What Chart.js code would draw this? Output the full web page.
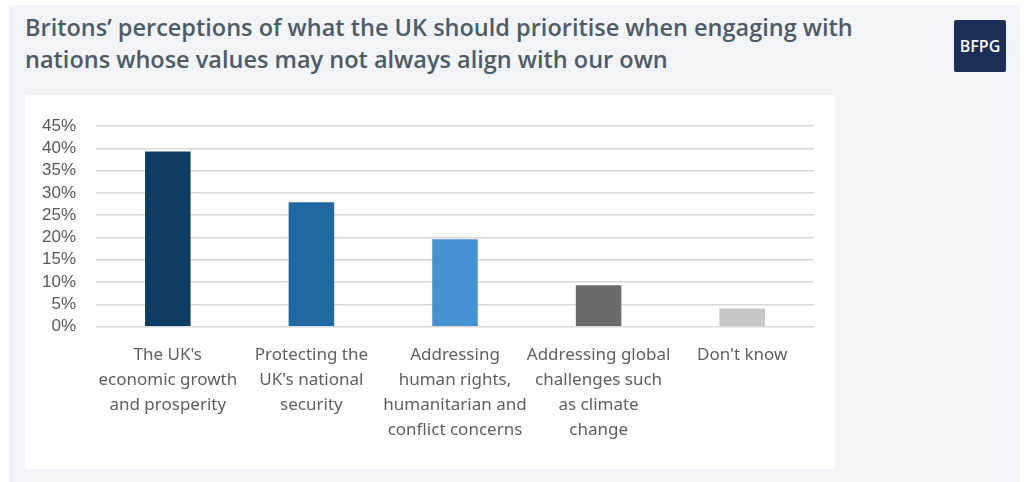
<!DOCTYPE html>
<html>
<head>
<meta charset="utf-8">
<script src="https://cdn.jsdelivr.net/npm/chart.js@4"></script>
<style>
  body { margin: 0; background: #ffffff; width: 1026px; height: 482px; overflow: hidden; }
  #panel { position: absolute; left: 9px; top: 5px; width: 1011px; height: 477px; background: #f1f5f9; }
  #title { position: absolute; left: 16px; top: 6px; width: 900px; font-family: "Open Sans", sans-serif; font-weight: 600;
           font-size: 23.5px; line-height: 32px; color: #4e5b67; }
  #logo { position: absolute; left: 945px; top: 15px; width: 52px; height: 52px; background: #1c2d58; border-radius: 2px;
          color: #fff; font-family: "Open Sans", sans-serif; font-weight: 600; font-size: 16px; line-height: 52px; text-align: center; }
  #box { position: absolute; left: 16px; top: 90px; width: 810px; height: 374px; background: #ffffff; }
</style>
</head>
<body>
<div id="panel">
  <div id="title">Britons’ perceptions of what the UK should prioritise when engaging with<br>nations whose values may not always align with our own</div>
  <div id="logo">BFPG</div>
  <div id="box"><canvas id="chart" width="810" height="374"></canvas></div>
</div>
<script>
const categories = [
  ["The UK's", "economic growth", "and prosperity"],
  ["Protecting the", "UK's national", "security"],
  ["Addressing", "human rights,", "humanitarian and", "conflict concerns"],
  ["Addressing global", "challenges such", "as climate", "change"],
  ["Don't know"]
];
const shares = [39.3, 27.9, 19.6, 9.3, 4.1];
const barColours = ["#0d3d62", "#2167a1", "#4591d2", "#6a6d6e", "#c6c6c6"];
const yTicks = [0, 5, 10, 15, 20, 25, 30, 35, 40, 45];

new Chart(document.getElementById('chart').getContext('2d'), {
  type: 'bar',
  data: {
    labels: categories,
    datasets: [{
      data: shares,
      backgroundColor: barColours,
      categoryPercentage: 1,
      barPercentage: 0.317
    }]
  },
  options: {
    responsive: false,
    animation: false,
    layout: { padding: { top: 31, right: 21, left: 0, bottom: 0 } },
    plugins: { legend: { display: false }, tooltip: { enabled: false } },
    scales: {
      x: {
        grid: { display: false },
        border: { display: false },
        ticks: {
          color: '#5f5f5f', maxRotation: 0, autoSkip: false, padding: 8,
          font: { family: 'Noto Sans', size: 17, lineHeight: 1.47 }
        },
        afterFit: function (axis) { axis.height = 142.3; }
      },
      y: {
        min: 0, max: 45,
        afterBuildTicks: function (axis) { axis.ticks = yTicks.map(v => ({ value: v })); },
        grid: { color: '#d9d9d9', lineWidth: 1.5, drawTicks: false },
        border: { display: false },
        ticks: {
          color: '#595959', padding: 20, autoSkip: false,
          font: { family: 'Liberation Sans', size: 17 },
          callback: v => v + '%'
        },
        afterFit: function (axis) { axis.width = 71; }
      }
    }
  }
});
</script>
</body>
</html>
